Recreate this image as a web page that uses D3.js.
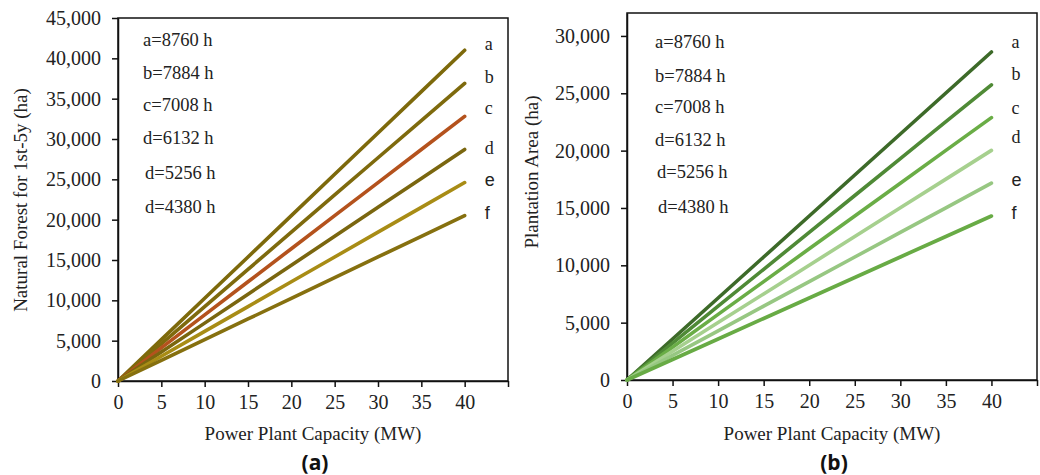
<!DOCTYPE html>
<html>
<head>
<meta charset="utf-8">
<script src="https://cdn.jsdelivr.net/npm/d3@7"></script>
<style>
  body { margin: 0; background: #fff; }
</style>
</head>
<body>
<svg id="chart" width="1040" height="475"></svg>
<script>
const capacity = [0, 5, 10, 15, 20, 25, 30, 35, 40];
const seriesKeys = ['a', 'b', 'c', 'd', 'e', 'f'];
const legendLabels = ['a=8760 h', 'b=7884 h', 'c=7008 h', 'd=6132 h', 'd=5256 h', 'd=4380 h'];
const xTicks = [0, 5, 10, 15, 20, 25, 30, 35, 40, 45];

// natural forest (ha), panel a
const forestA = [0, 5125, 10250, 15375, 20500, 25625, 30750, 35875, 41000];
const forestB = [0, 4612, 9225, 13837, 18450, 23062, 27675, 32287, 36900];
const forestC = [0, 4100, 8200, 12300, 16400, 20500, 24600, 28700, 32800];
const forestD = [0, 3587, 7175, 10762, 14350, 17937, 21525, 25112, 28700];
const forestE = [0, 3075, 6150, 9225, 12300, 15375, 18450, 21525, 24600];
const forestF = [0, 2562, 5125, 7687, 10250, 12812, 15375, 17937, 20500];
const forestColors = ['#7d690b', '#7e6a0d', '#b4521d', '#7a660f', '#a88c15', '#86700f'];
const forestTicks = [0, 5000, 10000, 15000, 20000, 25000, 30000, 35000, 40000, 45000];

// plantation area (ha), panel b
const plantA = [0, 3575, 7150, 10725, 14300, 17875, 21450, 25025, 28600];
const plantB = [0, 3217, 6435, 9652, 12870, 16087, 19305, 22522, 25740];
const plantC = [0, 2860, 5720, 8580, 11440, 14300, 17160, 20020, 22880];
const plantD = [0, 2502, 5005, 7507, 10010, 12512, 15015, 17517, 20020];
const plantE = [0, 2145, 4290, 6435, 8580, 10725, 12870, 15015, 17160];
const plantF = [0, 1787, 3575, 5362, 7150, 8937, 10725, 12512, 14300];
const plantColors = ['#3d6a29', '#4f8a36', '#6aad46', '#a6d08e', '#97c782', '#68ab45'];
const plantTicks = [0, 5000, 10000, 15000, 20000, 25000, 30000];

const serif = '"Liberation Serif", "Times New Roman", serif';
const sans = '"Liberation Sans", Arial, sans-serif';

const svg = d3.select('#chart');
const fmt = d3.format(',');

function drawPanel(opts) {
  const x = d3.scaleLinear().domain([0, 45]).range([opts.left, opts.right]);
  const y = d3.scaleLinear().domain([0, opts.yMax]).range([opts.bottom, opts.top]);
  const g = svg.append('g');

  // frame
  g.append('rect')
    .attr('x', opts.left).attr('y', opts.top)
    .attr('width', opts.right - opts.left).attr('height', opts.bottom - opts.top)
    .attr('fill', 'none').attr('stroke', '#111').attr('stroke-width', 1.5);

  const xAxis = g.append('g')
    .attr('transform', 'translate(0,' + opts.bottom + ')')
    .call(d3.axisBottom(x).tickValues(xTicks).tickSize(6).tickSizeOuter(0)
      .tickFormat(function(d) { return d === 45 ? '' : d; }));
  const yAxis = g.append('g')
    .attr('transform', 'translate(' + opts.left + ',0)')
    .call(d3.axisLeft(y).tickValues(opts.yTicks).tickSize(6).tickSizeOuter(0).tickFormat(fmt));

  [xAxis, yAxis].forEach(function(ax) {
    ax.select('.domain').attr('stroke', '#111').attr('stroke-width', 1.5);
    ax.selectAll('.tick line').attr('stroke', '#111').attr('stroke-width', 1.5);
    ax.selectAll('text').style('font-family', serif)
      .style('font-size', '20px').attr('fill', '#222');
  });
  xAxis.selectAll('text').attr('dy', '0.95em').attr('y', 9);
  yAxis.selectAll('text').attr('x', -17);

  const line = d3.line()
    .x(function(d, i) { return x(capacity[i]); })
    .y(function(d) { return y(d); });

  opts.series.forEach(function(s, i) {
    g.append('path')
      .datum(s)
      .attr('d', line)
      .attr('fill', 'none')
      .attr('stroke', opts.colors[i])
      .attr('stroke-width', 3.6)
      .attr('stroke-linecap', 'round');

    const last = s[s.length - 1];
    g.append('text')
      .attr('x', x(40) + 20)
      .attr('y', y(last) - 7 + opts.labelShift[i])
      .attr('dy', '0.35em')
      .style('font-size', '18px')
      .style('font-family', i >= 4 ? sans : serif)
      .attr('fill', '#222')
      .text(seriesKeys[i]);
  });

  legendLabels.forEach(function(t, i) {
    g.append('text')
      .attr('x', opts.left + opts.legendX[i])
      .attr('y', opts.legendY[i])
      .attr('dy', '0.35em')
      .style('font-size', '18.5px')
      .style('font-family', serif)
      .attr('fill', '#222')
      .text(t);
  });

  g.append('text')
    .attr('x', (opts.left + opts.right) / 2)
    .attr('y', 433)
    .attr('dy', '0.35em')
    .attr('text-anchor', 'middle')
    .style('font-size', '19px')
    .style('font-family', serif)
    .attr('fill', '#222')
    .text('Power Plant Capacity (MW)');

  g.append('text')
    .attr('transform', 'translate(' + opts.titleX + ',' + opts.titleY + ') rotate(-90)')
    .attr('dy', '0.35em')
    .attr('text-anchor', 'middle')
    .style('font-size', '19px')
    .style('font-family', serif)
    .attr('fill', '#222')
    .text(opts.yTitle);

  g.append('text')
    .attr('x', (opts.left + opts.right) / 2 + 2)
    .attr('y', 463)
    .attr('dy', '0.35em')
    .attr('text-anchor', 'middle')
    .style('font-size', '21px')
    .style('font-weight', 'bold')
    .style('font-family', '"Open Sans", "Liberation Sans", sans-serif')
    .attr('fill', '#111')
    .text(opts.tag);
}

drawPanel({
  left: 118, right: 508, top: 18, bottom: 381,
  yMax: 45000, yTicks: forestTicks,
  series: [forestA, forestB, forestC, forestD, forestE, forestF],
  colors: forestColors,
  labelShift: [0, 0, -2, 5, 4, 4],
  legendX: [25, 25, 25, 25, 27, 27],
  legendY: [40, 73, 105, 138, 173, 207],
  yTitle: 'Natural Forest for 1st-5y (ha)', titleX: 20, titleY: 200,
  tag: '(a)'
});

drawPanel({
  left: 627, right: 1037, top: 13, bottom: 380,
  yMax: 32000, yTicks: plantTicks,
  series: [plantA, plantB, plantC, plantD, plantE, plantF],
  colors: plantColors,
  labelShift: [-3, -4, -3, -7, 4, 4],
  legendX: [28, 28, 28, 28, 30, 31],
  legendY: [42, 76, 107, 140, 172, 207],
  yTitle: 'Plantation Area (ha)', titleX: 531, titleY: 172,
  tag: '(b)'
});
</script>
</body>
</html>
